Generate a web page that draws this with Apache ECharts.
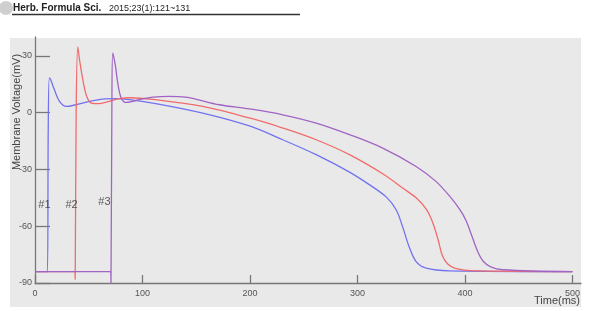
<!DOCTYPE html>
<html><head><meta charset="utf-8">
<script src="https://cdn.jsdelivr.net/npm/echarts@6/dist/echarts.min.js"></script>
<style>html,body{margin:0;padding:0;background:#fff}#c{width:589px;height:311px}</style>
</head><body><div id="c"></div>
<script>
const xTicks = [0, 100, 200, 300, 400, 500];
const yTicks = [-90, -60, -30, 0, 30];
const seriesNames = ['#1', '#2', '#3'];
const blue = [[0,-84],[11.5,-84],[12.3,-10],[13.3,18.4],[14.5,17.5],[18,12.2],[22.8,6],[29,3.3],[38,4.2],[50.7,6],[63,7.2],[75.5,7.4],[88,6.9],[109.6,5.1],[156,-0.2],[199.5,-7],[230.5,-14.3],[261.6,-22.2],[292.6,-31.4],[311,-38],[326.7,-44.5],[336,-51.3],[342,-60.2],[348,-70.7],[354.6,-78.7],[364,-82.2],[385.6,-83.6],[500,-84]];
const red = [[0,-84],[37,-84],[37.4,-88],[38.3,0],[39.8,34.8],[41.4,28],[44.5,17.5],[47.6,9.5],[52.3,5.1],[60,4.8],[69.3,6],[78.6,7.4],[88,7.9],[109.6,7],[156,3.3],[199.5,-2.8],[230.5,-8.1],[261.6,-14.3],[292.6,-22.2],[323.5,-32.3],[342,-39.8],[354.6,-45],[364,-51],[370,-58],[375,-67],[379,-75.5],[384,-80],[391,-82.3],[405,-83.5],[500,-84]];
const purple = [[0,-84],[70.3,-84],[70.7,-90],[71.5,0],[72.4,31.6],[74.9,24.5],[77,15.7],[80.2,7.8],[84.8,5.4],[91,6],[97,6.9],[110,8.2],[125,8.6],[140,8.2],[171.6,4.2],[199.5,2],[230.5,-1.1],[261.6,-5.5],[292.6,-11.6],[323.5,-18.7],[354.6,-28.4],[373,-36.3],[385.6,-44],[395,-51],[401,-57],[407,-66],[412,-73.5],[417,-78.5],[424,-81.5],[435,-83],[500,-84]];
const annotX = [8.8, 34, 64.6];
const annotY = [-49, -49, -47];
const annotText = ['#1', '#2', '#3'];

const chart = echarts.init(document.getElementById('c'), null, {renderer: 'canvas'});
const lineS = (name, data, color) => ({
  name, type: 'line', data, showSymbol: false, symbol: 'none',
  smooth: 0.35,
  lineStyle: {color, width: 1.3}, z: 3
});
chart.setOption({
  animation: false,
  backgroundColor: '#ffffff',
  graphic: [
    {type: 'rect', shape: {x: 10, y: 38, width: 571, height: 269}, style: {fill: '#e9e9e9'}, z: -10, silent: true},
    {type: 'circle', shape: {cx: 6, cy: 8, r: 7}, style: {fill: '#cfcfcf'}, z: 1},
    {type: 'text', x: 13, y: 3, style: {text: 'Herb. Formula Sci.', font: 'bold 10px "Liberation Sans", sans-serif', fill: '#222'}},
    {type: 'text', x: 109, y: 4, style: {text: '2015;23(1):121~131', font: '9px "Liberation Sans", sans-serif', fill: '#222'}},
    {type: 'line', shape: {x1: 12, y1: 14.5, x2: 300, y2: 14.5}, style: {stroke: '#333', lineWidth: 1.5}},
    {type: 'text', x: 580, y: 295, style: {text: 'Time(ms)', font: '11px "Liberation Sans", sans-serif', fill: '#444', align: 'right'}},
    {type: 'text', x: 11, y: 112, rotation: Math.PI / 2, style: {text: 'Membrane Voltage(mV)', font: '11px "Liberation Sans", sans-serif', fill: '#444', align: 'center', verticalAlign: 'top'}}
  ],
  grid: {left: 35, top: 37, width: 546, height: 246, containLabel: false},
  xAxis: {
    type: 'value', min: 0, max: 508, interval: 100,
    axisLine: {onZero: false, lineStyle: {color: '#777', width: 1.3}},
    axisTick: {inside: true, length: 8, lineStyle: {color: '#777', width: 1.3}},
    axisLabel: {color: '#555', fontSize: 9, fontFamily: 'Liberation Sans', margin: 6, showMaxLabel: false,
      formatter: v => xTicks.includes(v) ? String(v) : ''},
    splitLine: {show: false}
  },
  yAxis: {
    type: 'value', min: -90, max: 40, interval: 30,
    axisLine: {show: true, onZero: false, lineStyle: {color: '#777', width: 1.3}},
    axisTick: {show: true, inside: true, length: 15, lineStyle: {color: '#777', width: 1.3}},
    axisLabel: {color: '#555', fontSize: 9, fontFamily: 'Liberation Sans', margin: 3, showMaxLabel: false,
      formatter: v => yTicks.includes(v) ? String(v) : ''},
    splitLine: {show: false}
  },
  series: [
    lineS(seriesNames[0], blue, '#7272f0'),
    lineS(seriesNames[1], red, '#f06c6c'),
    lineS(seriesNames[2], purple, '#a064c4'),
    {
      type: 'scatter', symbolSize: 0, silent: true, z: 5,
      data: annotX.map((x, i) => ({value: [x, annotY[i]], label: {show: true, formatter: annotText[i]}})),
      label: {show: true, position: 'inside', color: '#333', fontSize: 11, fontFamily: 'Liberation Sans'}
    }
  ]
});
</script></body></html>
